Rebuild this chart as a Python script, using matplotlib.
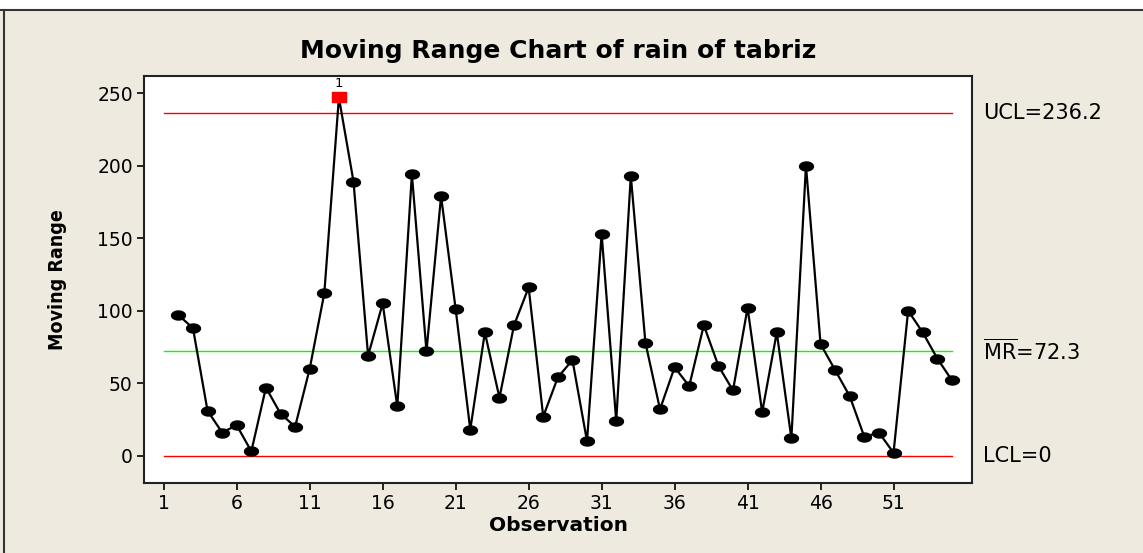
import numpy as np
import matplotlib
matplotlib.use("Agg")
import matplotlib.pyplot as plt
from matplotlib.path import Path

# moving range values, observations 2..55
observations = list(range(2, 56))
moving_range = [
    97, 88, 31, 16, 21, 3, 47, 29, 20, 60,
    112, 247, 189, 69, 105, 34, 194, 72, 179, 101,
    18, 85, 40, 90, 116, 27, 54, 66, 10, 153,
    24, 193, 78, 32, 61, 48, 90, 62, 45, 102,
    30, 85, 12, 200, 77, 59, 41, 13, 16, 2,
    100, 85, 67, 52,
]
ucl = 236.2
mr_bar = 72.3
lcl = 0
out_of_control = [13]
x_ticks = list(range(1, 52, 5))
y_ticks = list(range(0, 251, 50))

bg = "#EEEAE0"
plt.rcParams["font.family"] = ["DejaVu Sans"]
plt.rcParams["mathtext.fontset"] = "dejavusans"

fig = plt.figure(figsize=(11.43, 5.53), dpi=100, facecolor=bg)
ax = fig.add_axes([0.1259, 0.1266, 0.8507 - 0.1259, 0.8631 - 0.1266])
ax.set_facecolor("white")

# frame of the graph window (top and left edges)
fig.patches.append(plt.Rectangle((0, 1 - 10 / 553), 1, 10 / 553, transform=fig.transFigure,
                                 facecolor="white", edgecolor="none", zorder=0))
fig.add_artist(plt.Line2D([0, 1], [1 - 10 / 553] * 2, transform=fig.transFigure, color="#333333", lw=1.5))
fig.add_artist(plt.Line2D([4 / 1143] * 2, [0, 1 - 10 / 553], transform=fig.transFigure, color="#333333", lw=1.5))

# control lines
x_first, x_last = 1, observations[-1]
ax.plot([x_first, x_last], [ucl, ucl], color="#FF0000", lw=1.0, zorder=1)
ax.plot([x_first, x_last], [lcl, lcl], color="#FF0000", lw=1.0, zorder=1)
ax.plot([x_first, x_last], [mr_bar, mr_bar], color="#00FF00", lw=1.0, zorder=1)

# elliptical marker like Minitab
t = np.linspace(0, 2 * np.pi, 40)
ellipse = Path(np.column_stack([np.cos(t), 0.65 * np.sin(t)]), closed=True)
flat_box = Path([(-1, -0.7), (1, -0.7), (1, 0.7), (-1, 0.7), (-1, -0.7)], closed=True)

ax.plot(observations, moving_range, color="black", lw=1.6, zorder=2)
ax.plot(observations, moving_range, linestyle="none", marker=ellipse, markersize=10,
        color="black", zorder=3)

for obs in out_of_control:
    val = moving_range[observations.index(obs)]
    ax.plot([obs], [val], linestyle="none", marker=flat_box, markersize=10.5, color="#FF0000",
            markeredgecolor="#FF0000", zorder=4)
    ax.text(obs, val + 5, "1", ha="center", va="bottom", fontsize=9.5)

ax.set_xlim(-0.36, 56.4)
ax.set_ylim(-18.8, 262)
ax.set_xticks(x_ticks)
ax.set_yticks(y_ticks)
ax.tick_params(direction="out", length=5, width=1.2, labelsize=13.5, pad=3)
for s in ax.spines.values():
    s.set_linewidth(1.5)
    s.set_color("#222222")

ax.set_title("Moving Range Chart of rain of tabriz", fontsize=18, fontweight="bold", pad=13)
ax.set_xlabel("Observation", fontsize=14.5, fontweight="bold", labelpad=2)
ax.set_ylabel("Moving Range", fontsize=14, fontweight="bold", labelpad=22,
              fontstretch="condensed")

# limit labels on the right
trans = ax.get_yaxis_transform()
ax.text(1.013, ucl, "UCL=236.2", transform=trans, va="center", ha="left", fontsize=15)
ax.text(1.013, mr_bar, r"$\overline{\mathrm{MR}}$=72.3", transform=trans, va="center", ha="left", fontsize=15)
ax.text(1.013, lcl, "LCL=0", transform=trans, va="center", ha="left", fontsize=15)

fig.savefig("out.png", dpi=100, facecolor=bg)
